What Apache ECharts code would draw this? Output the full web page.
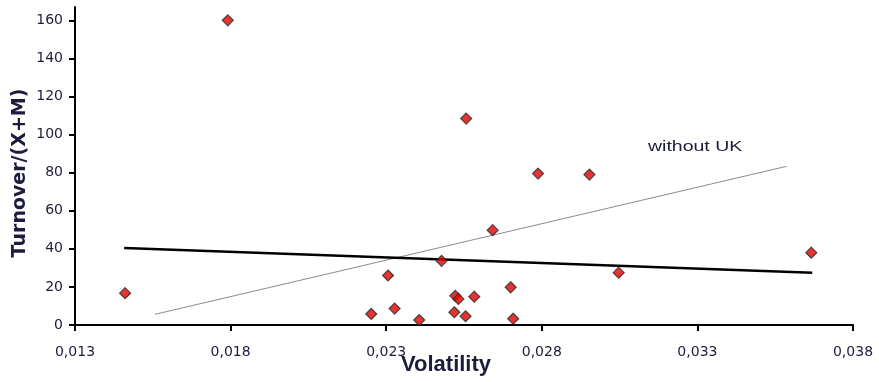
<!DOCTYPE html>
<html>
<head>
<meta charset="utf-8">
<script src="https://cdn.jsdelivr.net/npm/echarts@6/dist/echarts.min.js"></script>
<style>html,body{margin:0;padding:0;background:#fff;}#c{width:879px;height:382px;}</style>
</head>
<body>
<div id="c"></div>
<script>
// Scatter data: volatility vs turnover/(X+M)
const volatility = [0.01461, 0.01791, 0.02557, 0.02788, 0.02953, 0.03047, 0.03666, 0.02642, 0.02478, 0.02306,
                    0.02252, 0.02327, 0.02406, 0.02522, 0.02532, 0.02583, 0.02519, 0.02555, 0.02700, 0.02708];
const turnover   = [16.7, 160, 108.4, 79.5, 79, 27.5, 38, 49.8, 33.7, 26,
                    5.8, 8.6, 2.6, 15.3, 13.7, 14.9, 6.7, 4.6, 19.8, 3.3];
// Trend lines (endpoints)
const trendAllX = [0.01458, 0.03669];
const trendAllY = [40.4, 27.5];
const trendNoUKX = [0.01557, 0.03586];
const trendNoUKY = [5.6, 83.3];
// Tick labels
const xTicks = [0.013, 0.018, 0.023, 0.028, 0.033, 0.038];
const yTicks = [0, 20, 40, 60, 80, 100, 120, 140, 160];
const noUKLabel = 'without UK';

const txt = '#1c1c3c';
const pts = volatility.map((v, i) => [v, turnover[i]]);
const lineAll = trendAllX.map((v, i) => [v, trendAllY[i]]);
const lineNoUK = trendNoUKX.map((v, i) => [v, trendNoUKY[i]]);

const chart = echarts.init(document.getElementById('c'));
chart.setOption({
  animation: false,
  backgroundColor: '#fff',
  grid: { left: 75, right: 26, top: 7, bottom: 57, containLabel: false, outerBoundsMode: 'none' },
  xAxis: {
    type: 'value', min: 0.013, max: 0.038,
    name: 'Volatility', nameLocation: 'middle', nameGap: 29, nameMoveOverlap: false,
    nameTextStyle: { fontFamily: 'Liberation Sans', fontWeight: 'bold', fontSize: 22, color: txt, padding: [0, 36, 0, 0] },
    axisLine: { show: true, lineStyle: { color: '#000', width: 2 } },
    axisTick: { show: true, customValues: xTicks, length: 6, inside: false, lineStyle: { color: '#000', width: 2 } },
    axisLabel: { customValues: xTicks, margin: 20, fontFamily: 'DejaVu Sans', fontSize: 14, color: txt,
      formatter: v => v.toFixed(3).replace('.', ',') },
    splitLine: { show: false }
  },
  yAxis: {
    type: 'value', min: 0, max: 167,
    name: 'Turnover/(X+M)', nameLocation: 'middle', nameGap: 45, nameRotate: 90, nameMoveOverlap: false,
    nameTextStyle: { fontFamily: 'DejaVu Sans', fontWeight: 'bold', fontSize: 19, color: txt, padding: [0, 14, 0, 0] },
    axisLine: { show: true, lineStyle: { color: '#000', width: 2 } },
    axisTick: { show: true, customValues: yTicks, length: 6, lineStyle: { color: '#000', width: 2 } },
    axisLabel: { customValues: yTicks, margin: 12, fontFamily: 'DejaVu Sans', fontSize: 14, color: txt },
    splitLine: { show: false }
  },
  graphic: [{
    type: 'text', left: 648, top: 139, scaleX: 1.3,
    style: { text: noUKLabel, fontFamily: 'Liberation Sans', fontSize: 15, fill: txt }
  }],
  series: [
    { type: 'line', data: lineNoUK, symbol: 'none', lineStyle: { color: '#8c8c8c', width: 1 }, z: 2 },
    { type: 'line', data: lineAll, symbol: 'none', lineStyle: { color: '#000', width: 2.5 }, z: 2 },
    { type: 'scatter', data: pts, symbol: 'diamond', symbolSize: 11,
      itemStyle: { color: '#e00000', borderColor: '#2a2a2a', borderWidth: 1.2 }, z: 3 }
  ]
});
</script>
</body>
</html>
